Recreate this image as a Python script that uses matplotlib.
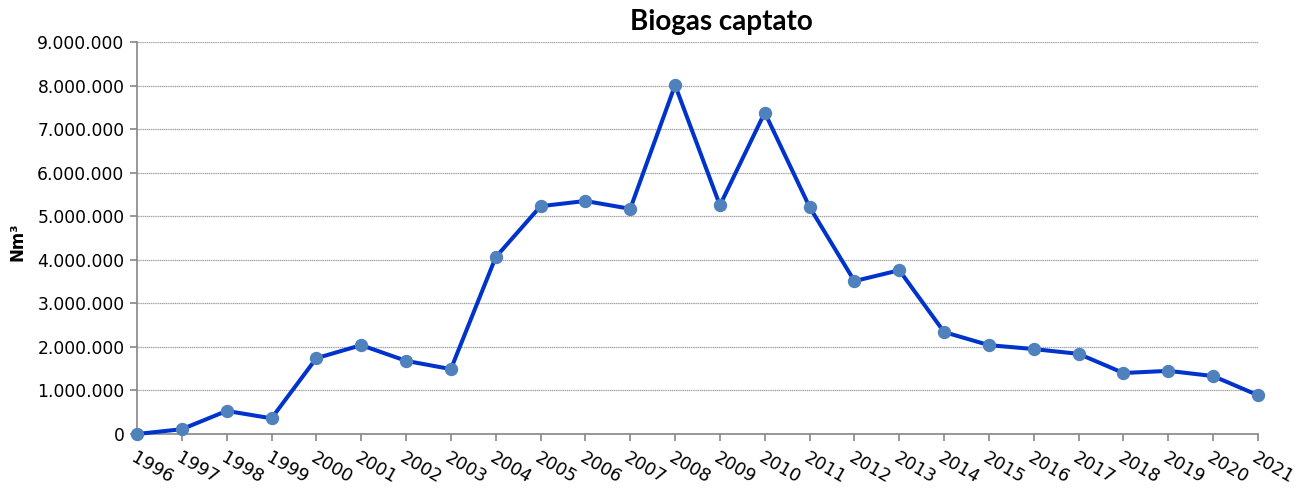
import matplotlib
matplotlib.use("Agg")
import matplotlib.pyplot as plt
import matplotlib.transforms as mtransforms
from matplotlib.ticker import FuncFormatter, MultipleLocator

plt.rcParams["font.family"] = ["DejaVu Sans"]

years = list(range(1996, 2022))
values = [0, 110000, 530000, 360000, 1740000, 2040000, 1680000, 1490000,
          4060000, 5230000, 5350000, 5170000, 8010000, 5250000, 7380000,
          5210000, 3510000, 3760000, 2340000, 2040000, 1950000, 1840000,
          1400000, 1450000, 1330000, 890000]
title = "Biogas captato"
ylabel = "Nm³"

fig = plt.figure(figsize=(13.11, 4.90), dpi=100)
ax = fig.add_axes([137/1311, 1 - 434/490, (1258 - 137)/1311, (434 - 42)/490])

ax.plot(years, values, color="#0033CC", lw=2.9, marker="o", ms=8.6,
        mfc="#4F81BD", mec="#4F81BD", clip_on=False, zorder=3)

ax.set_xlim(1996, 2021)
ax.set_ylim(0, 9000000)
ax.yaxis.set_major_locator(MultipleLocator(1000000))
ax.yaxis.set_major_formatter(FuncFormatter(lambda v, p: f"{int(v):,}".replace(",", ".")))
ax.set_xticks(years)
ax.set_xticklabels([str(y) for y in years], rotation=-30, ha="left", va="top",
                   rotation_mode="anchor", fontsize=12.8)
offset = mtransforms.ScaledTranslation(-13/100, -4/100, fig.dpi_scale_trans)
for lbl in ax.get_xticklabels():
    lbl.set_transform(lbl.get_transform() + offset)

ax.grid(axis="y", color="#a0a0a0", lw=0.9, ls=(0, (1, 0.5)))
ax.set_axisbelow(True)
for s in ["top", "right"]:
    ax.spines[s].set_visible(False)
for s in ["left", "bottom"]:
    ax.spines[s].set_color("#868686")
    ax.spines[s].set_linewidth(1.2)
ax.tick_params(axis="both", direction="out", length=5, width=1.2, color="#868686",
               labelcolor="black")
ax.tick_params(axis="y", pad=4, labelsize=12.3)
ax.tick_params(axis="x", pad=6)

fig.text(721/1311, 1 - 22/490, title, ha="center", va="center",
         fontsize=20, fontweight="bold", family=["Lato", "DejaVu Sans"])
fig.text(18/1311, 1 - 242/490, ylabel, rotation=90, ha="center", va="center",
         fontsize=12, fontweight="bold")

fig.savefig("out.png", dpi=100)
